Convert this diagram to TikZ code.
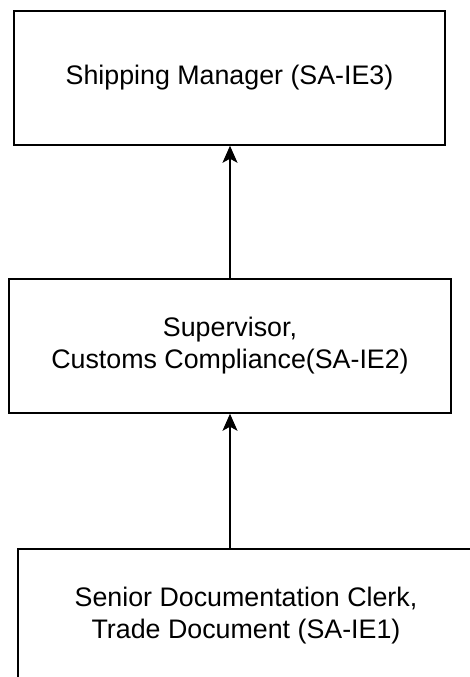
\documentclass[tikz,border=0pt]{standalone}
\usepackage{fontspec}
\setmainfont{Liberation Sans}
\usetikzlibrary{arrows.meta,calc}
\begin{document}
\begin{tikzpicture}[
        x=1pt, y=-1pt,
        rolebox/.style={draw, rectangle, line width=1.5pt, minimum height=134pt, align=center,
            font=\fontsize{26.8}{32}\selectfont},
        link/.style={draw, line width=1.5pt, -{Stealth[length=17pt, width=15pt, inset=4pt]}},
    ]
    \useasboundingbox (0,0) rectangle (470,677);
    \clip (0,0) rectangle (470,677);
    \node[rolebox, minimum width=431pt](mgr) at (229.5,78){Shipping Manager (SA-IE3)};
    \node[rolebox, minimum width=442pt](sup) at (230,346){Supervisor,\\Customs Compliance(SA-IE2)};
    \node[rolebox, minimum width=456pt](clerk) at (246,616){Senior Documentation Clerk,\\Trade Document (SA-IE1)};
    \draw[link] (sup.north) -- (sup.north |- mgr.south);
    \draw[link] (clerk.north -| sup.south) -- (sup.south);
\end{tikzpicture}
\end{document}
